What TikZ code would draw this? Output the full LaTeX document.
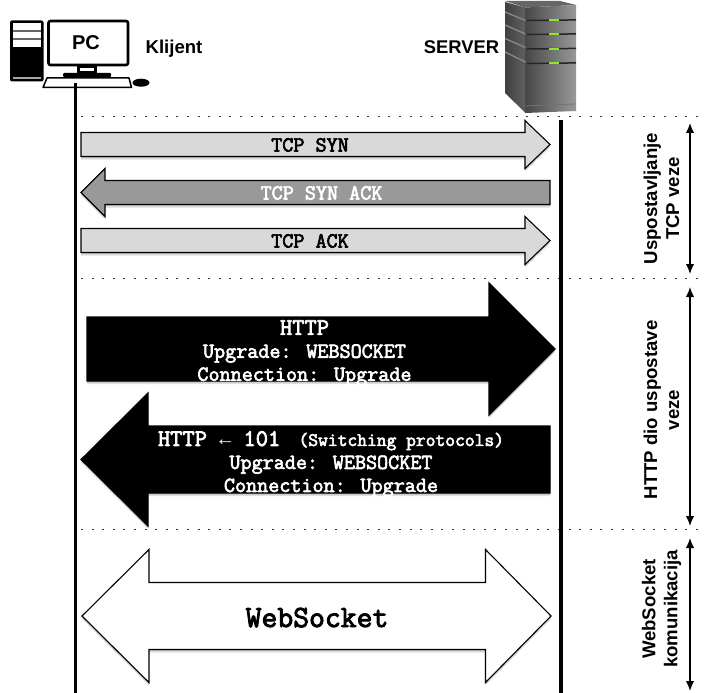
\documentclass[tikz,border=0pt]{standalone}
\usepackage{fontspec}
\setmainfont{Liberation Sans}
\newfontfamily\arrowfont{Liberation Mono}
\newfontfamily\msgfont[FakeBold=3]{Latin Modern Mono}
\usetikzlibrary{arrows.meta}
\definecolor{lightarr}{HTML}{D9D9D9}
\definecolor{midarr}{HTML}{999999}
\definecolor{ledgreen}{HTML}{8CE62A}
\tikzset{
  blockline/.style={draw=black,line width=1.1pt,line join=miter},
  softshadow/.style={fill=black,opacity=0.13,draw=none},
  lifeline/.style={line width=3.5pt,black},
  sepline/.style={line width=1.9pt,dash pattern=on 1.9pt off 8.7pt,black!80},
  spanline/.style={line width=1.4pt,{Latex[length=10pt,width=8.5pt]}-{Latex[length=10pt,width=8.5pt]}},
  msgtext/.style={font=\msgfont\fontsize{21.5}{23}\selectfont,align=center,inner sep=0pt},
  sidetext/.style={font=\bfseries\fontsize{18.6}{22}\selectfont,align=center,rotate=90,inner sep=0pt},
  headtext/.style={font=\bfseries,inner sep=0pt,anchor=base},
  pcline/.style={draw=black,line width=2.6pt,rounded corners=2pt,fill=white}
}
% soft shadow + shape for a block arrow outline
\newcommand{\blockarrow}[2]{%
  \fill[softshadow,yshift=-1.5pt] #2 -- cycle;
  \fill[softshadow,yshift=-3pt] #2 -- cycle;
  \path[blockline,#1] #2 -- cycle;
}
\begin{document}
\begin{tikzpicture}[x=1pt,y=-1pt]
\useasboundingbox (0,0) rectangle (713,693);
\fill[white] (0,0) rectangle (713,693);

% ---- anchors of the lifelines and span arrows
\coordinate (cliTop) at (75.5,83);
\coordinate (cliEnd) at (75.5,693);
\coordinate (srvTop) at (561,120);
\coordinate (srvEnd) at (561,693);
\coordinate (sepAl) at (81,116.5);  \coordinate (sepAr) at (698,116.5);
\coordinate (sepBl) at (81,278.5);  \coordinate (sepBr) at (698,278.5);
\coordinate (sepCl) at (81,529.5);  \coordinate (sepCr) at (698,529.5);
\coordinate (spanAt) at (690,123);  \coordinate (spanAb) at (690,274);
\coordinate (spanBt) at (690,287);  \coordinate (spanBb) at (690,526);
\coordinate (spanCt) at (690,538);  \coordinate (spanCb) at (690,691);

% ---- separators and lifelines
\draw[sepline] (sepAl) -- (sepAr);
\draw[sepline] (sepBl) -- (sepBr);
\draw[sepline] (sepCl) -- (sepCr);
\draw[lifeline] (cliTop) -- (cliEnd);
\draw[lifeline] (srvTop) -- (srvEnd);

% ---- TCP arrows
\blockarrow{fill=lightarr}{(81,132.5) -- (525,132.5) -- (525,120.5) -- (550,144.5) -- (525,168.5) -- (525,156.5) -- (81,156.5)}
\node[msgtext,anchor=base] (tcpsyn) at (310,151.5) {TCP SYN};
\blockarrow{fill=midarr}{(550,180.5) -- (105,180.5) -- (105,168.5) -- (81,192.5) -- (105,216.5) -- (105,204.5) -- (550,204.5)}
\node[msgtext,anchor=base,text=white] (tcpsynack) at (321.5,199.5) {TCP SYN ACK};
\blockarrow{fill=lightarr}{(81,228.5) -- (525,228.5) -- (525,216.5) -- (550,240.5) -- (525,264.5) -- (525,252.5) -- (81,252.5)}
\node[msgtext,anchor=base] (tcpack) at (310,247.5) {TCP ACK};

% ---- HTTP arrows
\blockarrow{fill=black}{(87,317) -- (489,317) -- (489,283) -- (555,349) -- (489,415) -- (489,381) -- (87,381)}
\node[msgtext,text=white,anchor=center] (http) at (304.5,353) {\fontsize{23.8}{23}\selectfont HTTP\\Upgrade: WEBSOCKET\\Connection: Upgrade};
\blockarrow{fill=black}{(550,426) -- (148,426) -- (148,393) -- (81,459.5) -- (148,526) -- (148,493) -- (550,493)}
\node[msgtext,text=white,anchor=center] (httpres) at (331,464) {\fontsize{23.8}{23}\selectfont HTTP {\arrowfont\fontsize{20}{23}\selectfont ←} 101\hspace{6pt} {\fontsize{19}{23}\selectfont (Switching protocols)}\\Upgrade: WEBSOCKET\\Connection: Upgrade};

% ---- WebSocket arrow
\blockarrow{fill=white}{(149,582.5) -- (485.5,582.5) -- (485.5,549.5) -- (551,616) -- (485.5,682.5) -- (485.5,649.5) -- (149,649.5) -- (149,682.5) -- (82,616) -- (149,549.5)}
\node[msgtext,font=\msgfont\fontsize{30.8}{32}\selectfont,anchor=base] (ws) at (317,627) {WebSocket};

% ---- span arrows and labels
\draw[spanline] (spanAt) -- (spanAb);
\draw[spanline] (spanBt) -- (spanBb);
\draw[spanline] (spanCt) -- (spanCb);
\node[sidetext] (lblA) at (661.5,198.5) {Uspostavljanje\\TCP veze};
\node[sidetext] (lblB) at (661.5,410) {HTTP dio uspostave\\veze};
\node[sidetext] (lblC) at (661.5,609) {WebSocket\\komunikacija};

% ---- PC icon
\begin{scope}
  \fill[black,rounded corners=2pt] (10,20.5) rectangle (43.5,81.5);
  \fill[white] (13,23) rectangle (41,47);
  \fill[black!60] (13,30.5) rectangle (41,32);
  \fill[black!60] (13,38.5) rectangle (41,40);
  \fill[black!35] (13,77) rectangle (41,79.5);
  \path[pcline] (48.5,21) rectangle (128,65);
  \fill[black] (77,65) rectangle (97,73);
  \fill[white] (80,68) rectangle (94,71);
  \fill[black,rounded corners=1pt] (63,73) rectangle (111,77);
  \path[draw=black,fill=white,line width=1.5pt,line join=round] (47,78) -- (129,78) -- (131.5,87.5) -- (43,87.5) -- cycle;
  \fill[black] (141,82.7) ellipse [x radius=8.5,y radius=4];
\end{scope}
\draw[lifeline] (cliTop) -- ++(0,6);
\node[headtext,font=\bfseries\fontsize{20}{24}\selectfont] (pc) at (86,50) {PC};
\node[headtext,font=\bfseries\fontsize{18.6}{22}\selectfont] (klijent) at (174,54) {Klijent};

% ---- Server icon
\begin{scope}
  \fill[black!60] (505,1) -- (560,1) -- (576,5) -- (525.5,7.5) -- cycle;
  \shade[left color=black!75,right color=black!62] (505,2) -- (525.5,7.5) -- (525.5,113) -- (505,93) -- cycle;
  \shade[left color=black!72,right color=black!40] (525.5,7.5) -- (576,5) -- (576,111) -- (525.5,113) -- cycle;
  \foreach \ya/\yb in {12/20.5,25/34,38.5/47.5,52/62}{
    \draw[black!45,line width=1.2pt] (505,\ya) -- (525.5,\yb);
  }
  \foreach \yy in {20.5,34.5,49,63.5}{
    \draw[black!85,line width=1.5pt] (527,\yy) -- (576,\yy-0.6);
    \fill[ledgreen] (549,\yy-1.4) rectangle (559,\yy+0.9);
  }
  \draw[black!55,line width=0.8pt] (525.5,106) -- (576,104);
\end{scope}
\node[headtext,font=\bfseries\fontsize{18.4}{20}\selectfont] (server) at (461.5,54) {SERVER};
\end{tikzpicture}
\end{document}
